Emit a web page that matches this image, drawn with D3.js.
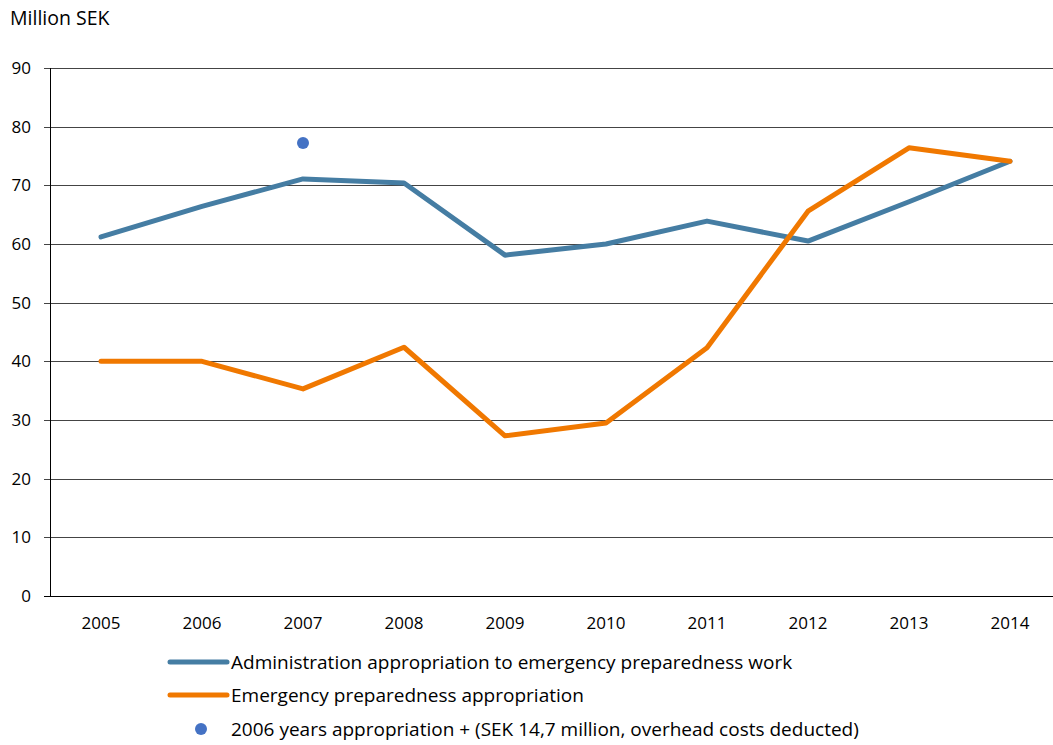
<!DOCTYPE html>
<html>
<head>
<meta charset="utf-8">
<script src="https://cdn.jsdelivr.net/npm/d3@7"></script>
<style>
  body { margin: 0; background: #fff; }
  text { font-family: "Open Sans", Lato, sans-serif; fill: #000; }
</style>
</head>
<body>
<div id="chart"></div>
<script>
// DATA
var years = ["2005", "2006", "2007", "2008", "2009", "2010", "2011", "2012", "2013", "2014"];
var adminValues = [61.2, 66.4, 71.1, 70.4, 58.1, 60.0, 63.9, 60.5, 67.2, 74.1];
var emergencyValues = [40.0, 40.0, 35.3, 42.4, 27.3, 29.5, 42.3, 65.6, 76.4, 74.1];
var extraPoint = { year: "2007", value: 77.2 };
var yTicks = [0, 10, 20, 30, 40, 50, 60, 70, 80, 90];
var seriesNames = [
  "Administration appropriation to emergency preparedness work",
  "Emergency preparedness appropriation",
  "2006 years appropriation + (SEK 14,7 million, overhead costs deducted)"
];

var width = 1053, height = 745;
var blue = "#457da3", orange = "#f07800", dotColor = "#4472c4";

var svg = d3.select("#chart").append("svg")
  .attr("width", width)
  .attr("height", height);

// SCALES
var x = d3.scaleBand()
  .domain(years)
  .range([50.5, 1060.5]);

var y = d3.scaleLinear()
  .domain([0, 90])
  .range([596, 68]);

// gridlines
svg.append("g")
  .selectAll("line")
  .data(yTicks)
  .enter().append("line")
  .attr("x1", 44)
  .attr("x2", width)
  .attr("y1", function(d) { return Math.round(y(d)) + 0.5; })
  .attr("y2", function(d) { return Math.round(y(d)) + 0.5; })
  .attr("stroke", function(d) { return d === 0 ? "#000" : "#444"; })
  .attr("stroke-width", 1);

// y axis line
svg.append("line")
  .attr("x1", 50.5).attr("x2", 50.5)
  .attr("y1", y(90)).attr("y2", Math.round(y(0)) + 0.5)
  .attr("stroke", "#000");

// y tick labels
svg.append("g")
  .selectAll("text")
  .data(yTicks)
  .enter().append("text")
  .attr("x", 31)
  .attr("y", function(d) { return y(d); })
  .attr("dy", "0.35em")
  .attr("text-anchor", "end")
  .attr("font-size", 17)
  .text(function(d) { return d; });

// x tick labels
svg.append("g")
  .selectAll("text")
  .data(years)
  .enter().append("text")
  .attr("x", function(d) { return x(d) + x.bandwidth() / 2; })
  .attr("y", 629)
  .attr("text-anchor", "middle")
  .attr("font-size", 17)
  .text(function(d) { return d; });

// axis title
svg.append("text")
  .attr("x", 10)
  .attr("y", 25)
  .attr("font-size", 19.5)
  .text("Million SEK");

// LINES
var line = d3.line()
  .x(function(d, i) { return x(years[i]) + x.bandwidth() / 2; })
  .y(function(d) { return y(d); })
  .curve(d3.curveLinear);

svg.append("path")
  .datum(adminValues)
  .attr("d", line)
  .attr("fill", "none")
  .attr("stroke", blue)
  .attr("stroke-width", 5)
  .attr("stroke-linejoin", "round")
  .attr("stroke-linecap", "round");

svg.append("path")
  .datum(emergencyValues)
  .attr("d", line)
  .attr("fill", "none")
  .attr("stroke", orange)
  .attr("stroke-width", 5)
  .attr("stroke-linejoin", "round")
  .attr("stroke-linecap", "round");

svg.append("circle")
  .attr("cx", x(extraPoint.year) + x.bandwidth() / 2)
  .attr("cy", y(extraPoint.value))
  .attr("r", 6)
  .attr("fill", dotColor);

// LEGEND
var legend = svg.append("g");
var legendY = [662, 695, 729];

legend.append("line")
  .attr("x1", 170).attr("x2", 227)
  .attr("y1", legendY[0]).attr("y2", legendY[0])
  .attr("stroke", blue).attr("stroke-width", 5).attr("stroke-linecap", "round");
legend.append("line")
  .attr("x1", 170).attr("x2", 227)
  .attr("y1", legendY[1]).attr("y2", legendY[1])
  .attr("stroke", orange).attr("stroke-width", 5).attr("stroke-linecap", "round");
legend.append("circle")
  .attr("cx", 201).attr("cy", legendY[2])
  .attr("r", 6).attr("fill", dotColor);

legend.selectAll("text")
  .data(seriesNames)
  .enter().append("text")
  .attr("x", 231)
  .attr("y", function(d, i) { return legendY[i]; })
  .attr("dy", "0.35em")
  .attr("font-size", 19)
  .text(function(d) { return d; });
</script>
</body>
</html>
